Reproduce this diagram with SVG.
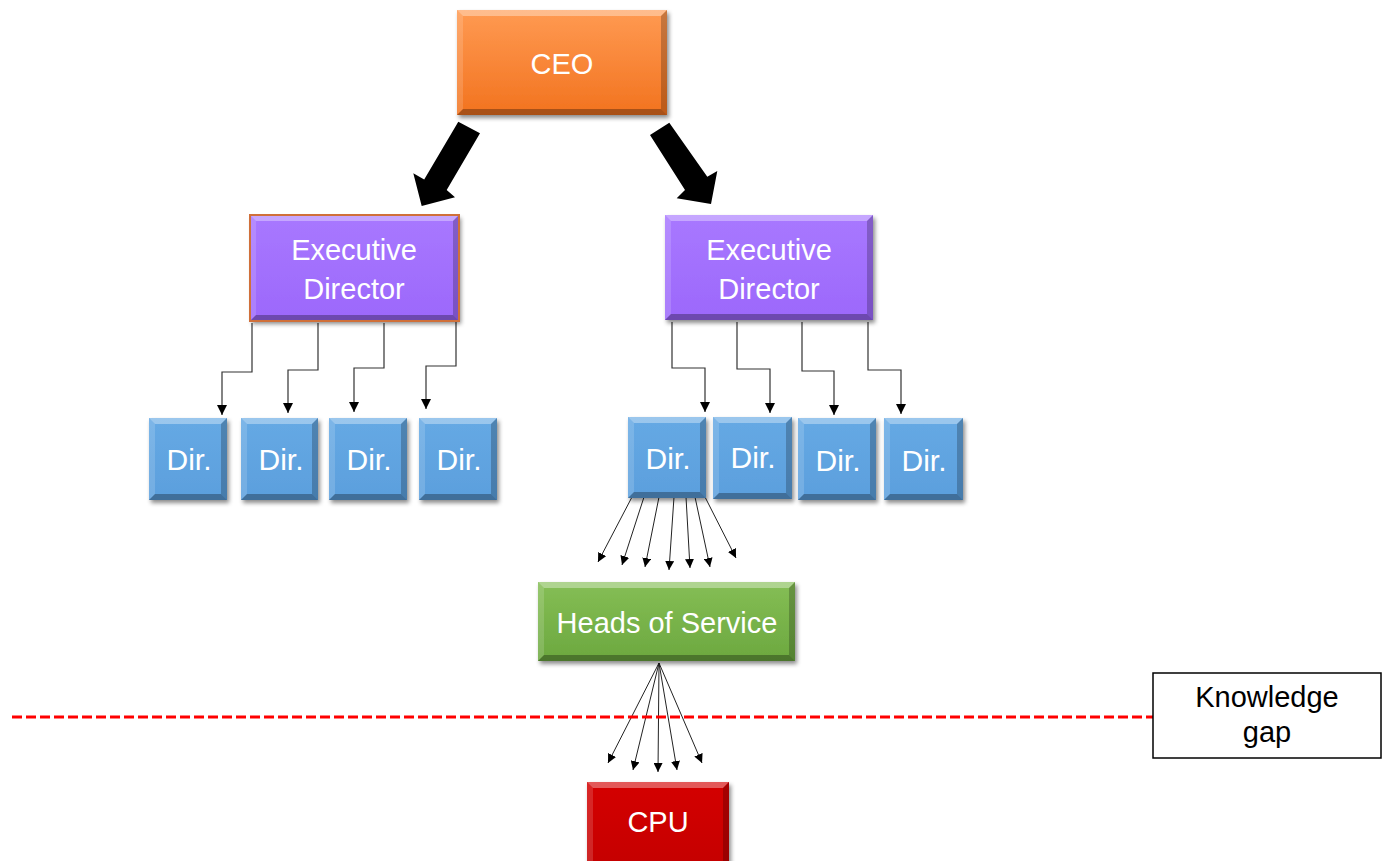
<svg xmlns="http://www.w3.org/2000/svg" width="1386" height="861" viewBox="0 0 1386 861">
<defs>
<style>
.t{font-family:"Liberation Sans",Arial,sans-serif;fill:#fff;text-anchor:middle;font-size:29px}
.d{font-size:30px}
.k{font-family:"Liberation Sans",Arial,sans-serif;fill:#000;text-anchor:middle;font-size:29px}
.bt{fill:#fff;fill-opacity:.35}
.bl{fill:#fff;fill-opacity:.15}
.bb{fill:#000;fill-opacity:.3}
.br{fill:#000;fill-opacity:.22}
.c{fill:none;stroke:#333;stroke-width:1.2}
.f{fill:none;stroke:#222;stroke-width:1}
.big{fill:#000}
</style>
<linearGradient id="gO" x1="0" y1="0" x2="0" y2="1"><stop offset="0" stop-color="#FF9A52"/><stop offset="1" stop-color="#F2731F"/></linearGradient>
<linearGradient id="gP" x1="0" y1="0" x2="0" y2="1"><stop offset="0" stop-color="#A878FF"/><stop offset="1" stop-color="#9C68FB"/></linearGradient>
<linearGradient id="gB" x1="0" y1="0" x2="0" y2="1"><stop offset="0" stop-color="#66A9E4"/><stop offset="1" stop-color="#5B9FDD"/></linearGradient>
<linearGradient id="gG" x1="0" y1="0" x2="0" y2="1"><stop offset="0" stop-color="#85BE55"/><stop offset="1" stop-color="#6CA83F"/></linearGradient>
<linearGradient id="gR" x1="0" y1="0" x2="0" y2="1"><stop offset="0" stop-color="#D40404"/><stop offset="1" stop-color="#C40000"/></linearGradient>
<filter id="sh" x="-10%" y="-10%" width="130%" height="130%"><feDropShadow dx="2" dy="3" stdDeviation="2" flood-color="#000" flood-opacity=".45"/></filter>
<marker id="a" markerUnits="userSpaceOnUse" markerWidth="10" markerHeight="10" refX="10" refY="5" orient="auto"><path d="M0,0 L10,5 L0,10 z" fill="#000"/></marker>
<marker id="s" markerUnits="userSpaceOnUse" markerWidth="9" markerHeight="9" refX="9" refY="4.5" orient="auto"><path d="M0,0 L9,4.5 L0,9 z" fill="#000"/></marker>
</defs>
<rect width="1386" height="861" fill="#fff"/>

<g id="connectors">
<polygon class="big" points="458.3,121.7 480,133.3 446.7,190 455,197.3 421.7,206 413.3,173.3 424.2,179.6"/>
<polygon class="big" points="650,135 669.3,122.7 707.3,176.7 717.3,171 711,204 676.7,198.3 685,190"/>
<polyline class="c" points="252,323 252,372 222,372 222,415" marker-end="url(#a)"/>
<polyline class="c" points="318,323 318,370 288,370 288,413" marker-end="url(#a)"/>
<polyline class="c" points="384,323 384,368 354,368 354,412" marker-end="url(#a)"/>
<polyline class="c" points="456,322 456,366 426,366 426,409" marker-end="url(#a)"/>
<polyline class="c" points="672,322 672,368 705,368 705,412" marker-end="url(#a)"/>
<polyline class="c" points="737,322 737,369 770,369 770,413" marker-end="url(#a)"/>
<polyline class="c" points="802,322 802,371 834,371 834,415" marker-end="url(#a)"/>
<polyline class="c" points="868,322 868,370 901,370 901,414" marker-end="url(#a)"/>
<line class="f" x1="632" y1="497" x2="598" y2="562" marker-end="url(#s)"/>
<line class="f" x1="644" y1="497" x2="622" y2="565" marker-end="url(#s)"/>
<line class="f" x1="659" y1="497" x2="645" y2="567" marker-end="url(#s)"/>
<line class="f" x1="674" y1="497" x2="669" y2="570" marker-end="url(#s)"/>
<line class="f" x1="686" y1="497" x2="690" y2="568" marker-end="url(#s)"/>
<line class="f" x1="695" y1="497" x2="710" y2="567" marker-end="url(#s)"/>
<line class="f" x1="705" y1="497" x2="736" y2="558" marker-end="url(#s)"/>
<line class="f" x1="659" y1="663" x2="608" y2="763" marker-end="url(#s)"/>
<line class="f" x1="659" y1="663" x2="633" y2="770" marker-end="url(#s)"/>
<line class="f" x1="659" y1="663" x2="658" y2="772" marker-end="url(#s)"/>
<line class="f" x1="659" y1="663" x2="677" y2="770" marker-end="url(#s)"/>
<line class="f" x1="659" y1="663" x2="702" y2="763" marker-end="url(#s)"/>
<line x1="12" y1="717" x2="1153" y2="717" stroke="#FF0000" stroke-width="3" stroke-dasharray="10 4"/>
</g>

<g id="ceo">
<rect x="457" y="10" width="210" height="105" fill="url(#gO)" filter="url(#sh)"/>
<polygon class="bt" points="457,10 667,10 661,16 463,16"/>
<polygon class="bl" points="457,10 463,16 463,109 457,115"/>
<polygon class="bb" points="457,115 463,109 661,109 667,115"/>
<polygon class="br" points="667,10 667,115 661,109 661,16"/>
<text class="t" x="562" y="74" font-size="26">CEO</text>
</g>

<g id="ed-left">
<rect x="250" y="215" width="209" height="106" fill="url(#gP)" filter="url(#sh)"/>
<polygon class="bt" points="250,215 459,215 453,221 256,221"/>
<polygon class="bl" points="250,215 256,221 256,315 250,321"/>
<polygon class="bb" points="250,321 256,315 453,315 459,321"/>
<polygon class="br" points="459,215 459,321 453,315 453,221"/>
<rect x="250" y="215" width="209" height="106" fill="none" stroke="#D0703A" stroke-width="2"/>
<text class="t" x="354" y="260">Executive</text>
<text class="t" x="354" y="299">Director</text>
</g>

<g id="ed-right">
<rect x="665" y="215" width="208" height="105" fill="url(#gP)" filter="url(#sh)"/>
<polygon class="bt" points="665,215 873,215 867,221 671,221"/>
<polygon class="bl" points="665,215 671,221 671,314 665,320"/>
<polygon class="bb" points="665,320 671,314 867,314 873,320"/>
<polygon class="br" points="873,215 873,320 867,314 867,221"/>
<text class="t" x="769" y="260">Executive</text>
<text class="t" x="769" y="299">Director</text>
</g>

<g id="dir-l1">
<rect x="149" y="418" width="78" height="82" fill="url(#gB)" filter="url(#sh)"/>
<polygon class="bt" points="149,418 227,418 221,424 155,424"/>
<polygon class="bl" points="149,418 155,424 155,494 149,500"/>
<polygon class="bb" points="149,500 155,494 221,494 227,500"/>
<polygon class="br" points="227,418 227,500 221,494 221,424"/>
<text class="t d" x="189" y="470">Dir.</text>
</g>
<g id="dir-l2">
<rect x="241" y="418" width="77" height="82" fill="url(#gB)" filter="url(#sh)"/>
<polygon class="bt" points="241,418 318,418 312,424 247,424"/>
<polygon class="bl" points="241,418 247,424 247,494 241,500"/>
<polygon class="bb" points="241,500 247,494 312,494 318,500"/>
<polygon class="br" points="318,418 318,500 312,494 312,424"/>
<text class="t d" x="281" y="470">Dir.</text>
</g>
<g id="dir-l3">
<rect x="329" y="418" width="78" height="82" fill="url(#gB)" filter="url(#sh)"/>
<polygon class="bt" points="329,418 407,418 401,424 335,424"/>
<polygon class="bl" points="329,418 335,424 335,494 329,500"/>
<polygon class="bb" points="329,500 335,494 401,494 407,500"/>
<polygon class="br" points="407,418 407,500 401,494 401,424"/>
<text class="t d" x="369" y="470">Dir.</text>
</g>
<g id="dir-l4">
<rect x="419" y="418" width="78" height="82" fill="url(#gB)" filter="url(#sh)"/>
<polygon class="bt" points="419,418 497,418 491,424 425,424"/>
<polygon class="bl" points="419,418 425,424 425,494 419,500"/>
<polygon class="bb" points="419,500 425,494 491,494 497,500"/>
<polygon class="br" points="497,418 497,500 491,494 491,424"/>
<text class="t d" x="459" y="470">Dir.</text>
</g>
<g id="dir-r1">
<rect x="628" y="417" width="78" height="81" fill="url(#gB)" filter="url(#sh)"/>
<polygon class="bt" points="628,417 706,417 700,423 634,423"/>
<polygon class="bl" points="628,417 634,423 634,492 628,498"/>
<polygon class="bb" points="628,498 634,492 700,492 706,498"/>
<polygon class="br" points="706,417 706,498 700,492 700,423"/>
<text class="t d" x="668" y="469">Dir.</text>
</g>
<g id="dir-r2">
<rect x="713" y="417" width="79" height="82" fill="url(#gB)" filter="url(#sh)"/>
<polygon class="bt" points="713,417 792,417 786,423 719,423"/>
<polygon class="bl" points="713,417 719,423 719,493 713,499"/>
<polygon class="bb" points="713,499 719,493 786,493 792,499"/>
<polygon class="br" points="792,417 792,499 786,493 786,423"/>
<text class="t d" x="753" y="468">Dir.</text>
</g>
<g id="dir-r3">
<rect x="798" y="418" width="78" height="82" fill="url(#gB)" filter="url(#sh)"/>
<polygon class="bt" points="798,418 876,418 870,424 804,424"/>
<polygon class="bl" points="798,418 804,424 804,494 798,500"/>
<polygon class="bb" points="798,500 804,494 870,494 876,500"/>
<polygon class="br" points="876,418 876,500 870,494 870,424"/>
<text class="t d" x="838" y="471">Dir.</text>
</g>
<g id="dir-r4">
<rect x="884" y="418" width="79" height="82" fill="url(#gB)" filter="url(#sh)"/>
<polygon class="bt" points="884,418 963,418 957,424 890,424"/>
<polygon class="bl" points="884,418 890,424 890,494 884,500"/>
<polygon class="bb" points="884,500 890,494 957,494 963,500"/>
<polygon class="br" points="963,418 963,500 957,494 957,424"/>
<text class="t d" x="924" y="471">Dir.</text>
</g>

<g id="heads-of-service">
<rect x="538" y="582" width="257" height="79" fill="url(#gG)" filter="url(#sh)"/>
<polygon class="bt" points="538,582 795,582 789,588 544,588"/>
<polygon class="bl" points="538,582 544,588 544,655 538,661"/>
<polygon class="bb" points="538,661 544,655 789,655 795,661"/>
<polygon class="br" points="795,582 795,661 789,655 789,588"/>
<text class="t" x="667" y="633" font-size="28">Heads of Service</text>
</g>

<g id="cpu">
<rect x="587" y="782" width="142" height="90" fill="url(#gR)" filter="url(#sh)"/>
<polygon class="bt" points="587,782 729,782 723,788 593,788"/>
<polygon class="bl" points="587,782 593,788 593,872 587,872"/>
<polygon class="br" points="729,782 729,872 723,872 723,788"/>
<text class="t" x="658" y="832" font-size="26">CPU</text>
</g>

<g id="knowledge-gap">
<rect x="1153" y="673" width="228" height="85" fill="#fff" stroke="#000" stroke-width="1.5"/>
<text class="k" x="1267" y="707">Knowledge</text>
<text class="k" x="1267" y="742">gap</text>
</g>
</svg>
